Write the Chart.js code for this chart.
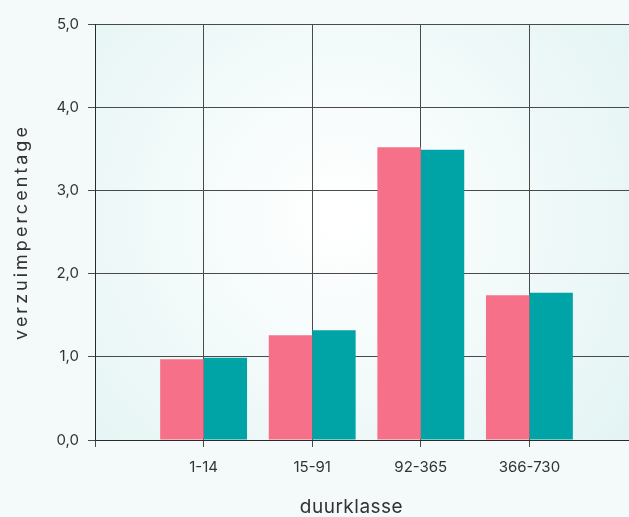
<!DOCTYPE html>
<html>
<head>
<meta charset="utf-8">
<script src="https://cdn.jsdelivr.net/npm/chart.js@4/dist/chart.umd.min.js"></script>
<style>
  html, body { margin: 0; padding: 0; overflow: hidden; background: #f4f9fa; }
  #wrap { width: 649px; height: 517px; position: relative; }
</style>
</head>
<body>
<div id="wrap"><canvas id="c"></canvas></div>
<script>
// ---- data ----
const categories = ["", "1-14", "15-91", "92-365", "366-730", ""];
const series1 = [null, 0.97, 1.26, 3.52, 1.74, null];
const series2 = [null, 0.99, 1.32, 3.49, 1.77, null];
const yTitle = "verzuimpercentage";
const xTitle = "duurklasse";

// letter spacing for the y title, small shift for x title
try {
  const Lin = Chart.registry.getScale('linear');
  const origLin = Lin.prototype.drawTitle;
  Lin.prototype.drawTitle = function () {
    const c = this.ctx; c.save(); c.letterSpacing = '3px'; origLin.call(this); c.restore();
  };
  const Cat = Chart.registry.getScale('category');
  const origCat = Cat.prototype.drawTitle;
  Cat.prototype.drawTitle = function () {
    const c = this.ctx; c.save(); c.letterSpacing = '0.5px'; c.translate(-15, 0); origCat.call(this); c.restore();
  };
} catch (e) {}

const bgPlugin = {
  id: 'bg',
  beforeDraw(chart) {
    const { ctx, chartArea: a, width, height } = chart;
    ctx.save();
    ctx.fillStyle = '#f4f9fa';
    ctx.fillRect(0, 0, width, height);
    const g = ctx.createRadialGradient(340, 215, 10, 340, 215, 380);
    g.addColorStop(0, '#ffffff');
    g.addColorStop(0.6, '#eef8f8');
    g.addColorStop(1, '#e2f3f3');
    ctx.fillStyle = g;
    ctx.fillRect(a.left, a.top, a.right - a.left, a.bottom - a.top);
    ctx.restore();
  }
};

Chart.defaults.font.family = "Inter, 'Open Sans', sans-serif";
Chart.defaults.color = '#333333';

new Chart(document.getElementById('c'), {
  type: 'bar',
  data: {
    labels: categories,
    datasets: [
      { label: 'a', data: series1, backgroundColor: '#f7708a', borderWidth: 0 },
      { label: 'b', data: series2, backgroundColor: '#00a4a6', borderWidth: 0 }
    ]
  },
  options: {
    responsive: true,
    maintainAspectRatio: false,
    animation: false,
    layout: { padding: { top: 24, left: 0, right: 0, bottom: 0 } },
    datasets: { bar: { barPercentage: 1, categoryPercentage: 0.8 } },
    plugins: { legend: { display: false }, tooltip: { enabled: false } },
    scales: {
      x: {
        offset: false,
        grid: { offset: false, color: '#4a4a4a', lineWidth: 1, tickLength: 7, drawTicks: true },
        border: { color: '#2a2a2a', width: 1 },
        ticks: { font: { size: 15 }, color: '#333', padding: 11, maxRotation: 0, autoSkip: false },
        title: { display: true, text: xTitle, font: { size: 19, lineHeight: 1 }, color: '#333', padding: { top: 0, bottom: 0 } },
        afterFit(s) { s.height = 77; }
      },
      y: {
        min: 0, max: 5,
        ticks: { stepSize: 1, font: { size: 15 }, color: '#333', padding: 9,
          callback: v => v.toFixed(1).replace('.', ',') },
        grid: { color: '#4a4a4a', lineWidth: 1, tickLength: 7 },
        border: { color: '#2a2a2a', width: 1 },
        title: { display: true, text: yTitle, font: { size: 18, lineHeight: 1.2 }, color: '#333', padding: { top: 11, bottom: 0 } },
        afterFit(s) { s.width = 95; }
      }
    }
  },
  plugins: [bgPlugin]
});
</script>
</body>
</html>
